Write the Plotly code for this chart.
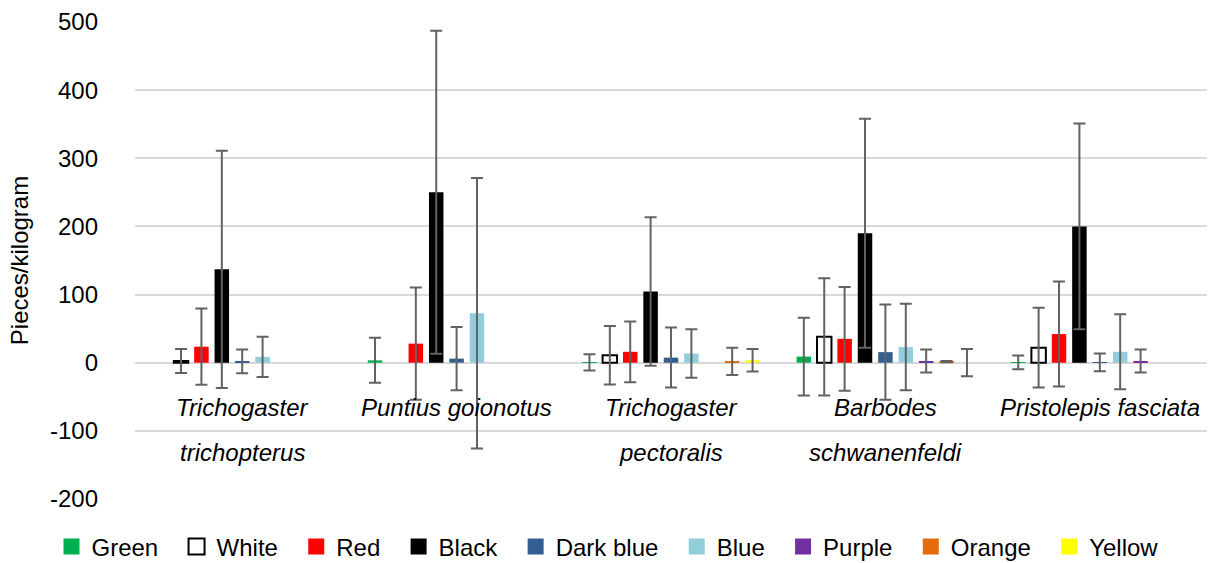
import plotly.graph_objects as go

species = ["Trichogaster trichopterus", "Puntius goionotus", "Trichogaster pectoralis",
           "Barbodes schwanenfeldi", "Pristolepis fasciata"]
label_line1 = ["Trichogaster", "Puntius goionotus", "Trichogaster", "Barbodes", "Pristolepis fasciata"]
label_line2 = ["trichopterus", "", "pectoralis", "schwanenfeldi", ""]

series_names = ["Green", "White", "Red", "Black", "Dark blue", "Blue", "Purple", "Orange", "Yellow"]
series_colors = ["#00B050", "#FFFFFF", "#FF0000", "#000000", "#335E91", "#92CDDC", "#7030A0", "#E46C0A", "#FFFF00"]

green = [None, 3.5, 0.5, 9, 0.5]
green_err = [None, 33, 12, 57, 10]
white = [2.5, None, 11, 38, 22]
white_err = [17.5, None, 43, 86, 58.5]
red = [23.5, 28, 16, 35, 42]
red_err = [56, 82.5, 44.5, 76, 77]
black = [137, 250, 104.5, 190, 200]
black_err = [174, 237, 109, 168, 151]
dark_blue = [2, 6, 7.5, 15.5, 0.5]
dark_blue_err = [17.5, 46.5, 44, 70, 13]
blue = [8.5, 72.5, 13.5, 23, 16]
blue_err = [29.5, 198.5, 35.5, 63.5, 55]
purple = [None, None, None, 2.5, 2.5]
purple_err = [None, None, None, 17, 17]
orange = [None, None, 2, 1.5, None]
orange_err = [None, None, 20, 1, None]
yellow = [None, None, 3.5, 0, None]
yellow_err = [None, None, 16.5, 20, None]

values = [green, white, red, black, dark_blue, blue, purple, orange, yellow]
errors = [green_err, white_err, red_err, black_err, dark_blue_err, blue_err, purple_err, orange_err, yellow_err]

y_ticks = [-200, -100, 0, 100, 200, 300, 400, 500]

FONT = "Arial, Liberation Sans, sans-serif"
FS = 24

W, H = 1209, 563
M_T = 22
plot_h = H - M_T
y_dom = [64 / plot_h, 1]
x_dom = [135 / W, 1207 / W]
legend_y = 16 / plot_h

fig = go.Figure()
for name, color, vals, errs in zip(series_names, series_colors, values, errors):
    is_white = name == "White"
    fig.add_trace(go.Bar(
        x=species, y=vals, name=name, showlegend=False,
        marker=dict(color=color,
                    line=dict(color="#000000" if is_white else color, width=2 if is_white else 0)),
        error_y=dict(type="data", array=errs, visible=True, color="#626262", thickness=2, width=6),
    ))
    # legend entry
    fig.add_trace(go.Scatter(
        x=[None], y=[None], mode="markers", name=name + "\u00a0\u00a0",
        marker=dict(symbol="square", size=16, color=color,
                    line=dict(color="#000000" if is_white else color, width=2 if is_white else 0)),
        showlegend=True, hoverinfo="skip",
    ))

annotations = []
for sp, l1, l2 in zip(species, label_line1, label_line2):
    annotations.append(dict(x=sp, y=0, xref="x", yref="y", text=f"<i>{l1}</i>", showarrow=False,
                            yanchor="middle", yshift=-45, font=dict(family=FONT, size=FS, color="#000")))
    if l2:
        annotations.append(dict(x=sp, y=0, xref="x", yref="y", text=f"<i>{l2}</i>", showarrow=False,
                                yanchor="middle", yshift=-90, font=dict(family=FONT, size=FS, color="#000")))

fig.update_layout(
    width=W, height=H,
    margin=dict(l=0, r=0, t=M_T, b=0, autoexpand=False),
    paper_bgcolor="white", plot_bgcolor="white",
    barmode="group", bargap=0.144, bargroupgap=0.29,
    font=dict(family=FONT, size=FS, color="#000"),
    showlegend=True,
    legend=dict(orientation="h", xref="paper", yref="paper", x=614 / W, xanchor="center",
                y=legend_y, yanchor="middle", font=dict(family=FONT, size=FS, color="#000"),
                itemsizing="trace", bgcolor="rgba(0,0,0,0)"),
    annotations=annotations,
)
fig.update_xaxes(domain=x_dom, showticklabels=False, showgrid=False, zeroline=False, showline=False, ticks="")
fig.update_yaxes(domain=y_dom, range=[-200, 500], tickvals=y_ticks, ticktext=[str(v) for v in y_ticks],
                 showgrid=True, gridcolor="#D9D9D9", gridwidth=2,
                 zeroline=True, zerolinecolor="#D9D9D9", zerolinewidth=2,
                 showline=False, ticks="", ticklabelstandoff=36,
                 title=dict(text="Pieces/kilogram", font=dict(family=FONT, size=FS, color="#000"), standoff=14),
                 tickfont=dict(family=FONT, size=FS, color="#000"))

fig.write_html("out.html")
